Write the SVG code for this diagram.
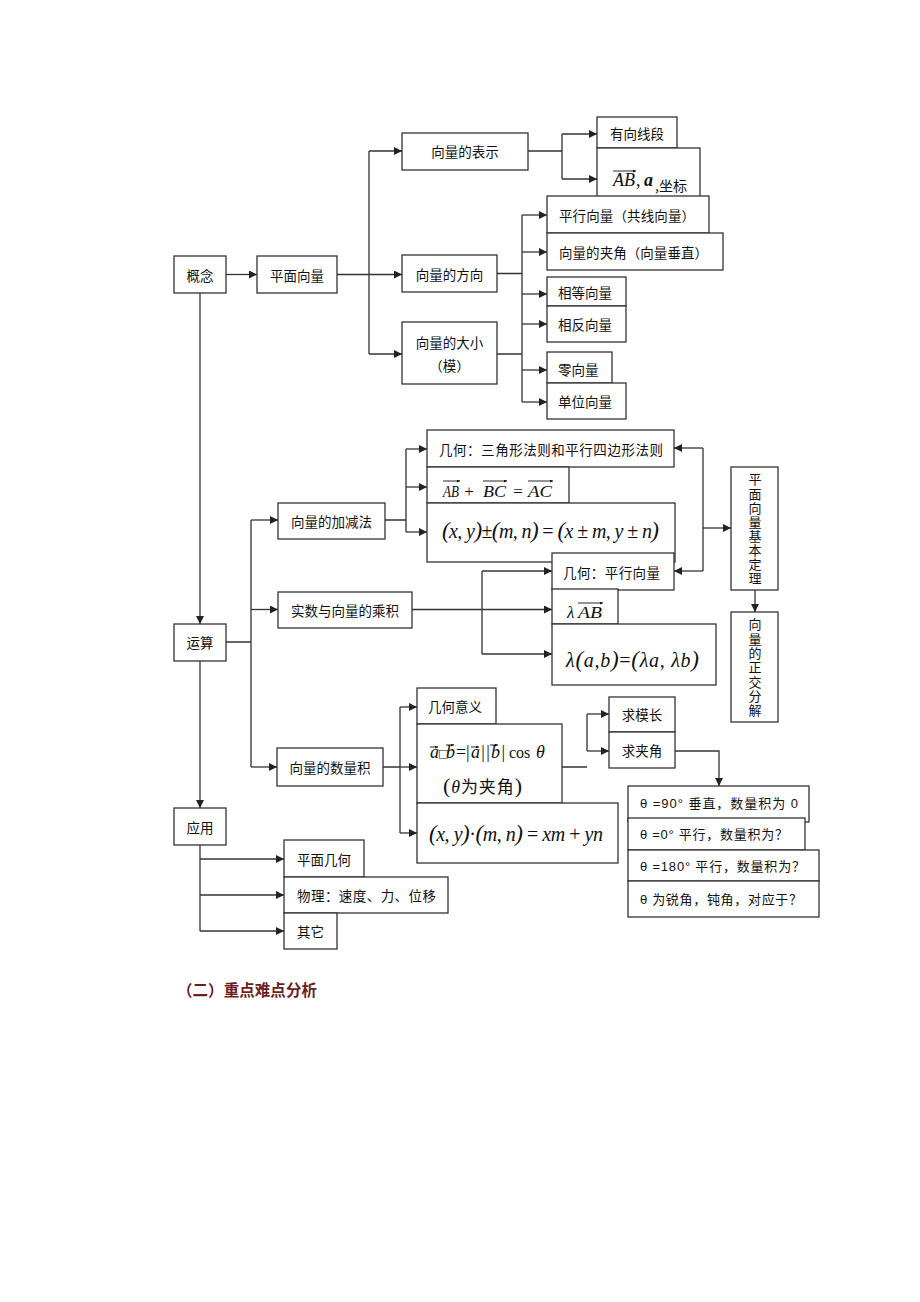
<svg xmlns="http://www.w3.org/2000/svg" width="920" height="1302" viewBox="0 0 920 1302">
<style>
.b{fill:#fff;stroke:#333;stroke-width:1.3}
.t{font-family:"Noto Sans CJK SC","Noto Sans CJK JP",sans-serif;font-size:13.5px;fill:#111;dominant-baseline:central}
.c{text-anchor:middle}
.v{font-family:"Noto Sans CJK SC","Noto Sans CJK JP",sans-serif;font-size:13px;fill:#111;writing-mode:vertical-rl}
.s{font-family:"Liberation Sans","Noto Sans CJK SC",sans-serif;font-size:13px;fill:#111;dominant-baseline:central}
.m{font-family:"Liberation Serif","Times New Roman",serif;font-style:italic;fill:#111}
.r{font-family:"Liberation Serif","Times New Roman",serif;fill:#111}
.k{font-family:"Noto Sans CJK SC",sans-serif;fill:#111}
.ln{stroke:#333;stroke-width:1.3;fill:none}
.ar{stroke:#333;stroke-width:1.3;fill:none;marker-end:url(#ah)}
.vc{stroke:#111;stroke-width:0.9;fill:none;marker-end:url(#vh)}
</style>
<defs>
<marker id="ah" markerWidth="9" markerHeight="9" refX="8" refY="4" orient="auto" markerUnits="userSpaceOnUse"><path d="M0,0 L8,4 L0,8 z" fill="#222"/></marker>
<marker id="vh" markerWidth="4" markerHeight="4" refX="3" refY="1.5" orient="auto" markerUnits="userSpaceOnUse"><path d="M0,0 L3,1.5 L0,3 z" fill="#111"/></marker>
</defs>
<rect width="920" height="1302" fill="#fff"/>

<g id="connectors">
<path class="ar" d="M226,274.5 H257"/>
<path class="ln" d="M337,274.5 H369 M369,151 V354"/>
<path class="ar" d="M369,151 H402"/>
<path class="ar" d="M369,274.5 H402"/>
<path class="ar" d="M369,354 H402"/>
<path class="ln" d="M528,151 H562 M562,134 V179"/>
<path class="ar" d="M562,134 H597"/>
<path class="ar" d="M562,179 H597"/>
<path class="ln" d="M497,273.5 H522 M497,354 H522 M522,215 V402"/>
<path class="ar" d="M522,215 H547"/>
<path class="ar" d="M522,252 H547"/>
<path class="ar" d="M522,294 H547"/>
<path class="ar" d="M522,324 H547"/>
<path class="ar" d="M522,370 H547"/>
<path class="ar" d="M522,402 H547"/>
<path class="ar" d="M200,293 V624"/>
<path class="ar" d="M200,661 V808"/>
<path class="ln" d="M226,642 H251 M251,520 V767"/>
<path class="ar" d="M251,520 H278"/>
<path class="ar" d="M251,609.5 H278"/>
<path class="ar" d="M251,767 H277"/>
<path class="ln" d="M385,520 H406 M406,449 V532"/>
<path class="ar" d="M406,449 H427"/>
<path class="ar" d="M406,487 H427"/>
<path class="ar" d="M406,532 H427"/>
<path class="ln" d="M412,609.5 H482 M482,571 V654"/>
<path class="ar" d="M482,571 H552"/>
<path class="ar" d="M482,609.5 H552"/>
<path class="ar" d="M482,654 H552"/>
<path class="ln" d="M703,448 V571"/>
<path class="ar" d="M703,448 H674"/>
<path class="ar" d="M703,571 H674"/>
<path class="ar" d="M703,528 H731"/>
<path class="ar" d="M755,590 V612"/>
<path class="ln" d="M383,767 H400 M400,707 V833"/>
<path class="ar" d="M400,707 H417"/>
<path class="ar" d="M400,767 H417"/>
<path class="ar" d="M400,833 H417"/>
<path class="ln" d="M562,767 H587 M587,714 V751"/>
<path class="ar" d="M587,714 H609"/>
<path class="ar" d="M587,751 H609"/>
<path class="ar" d="M675,751 H719 V786"/>
<path class="ln" d="M200,845 V931"/>
<path class="ar" d="M200,859 H284"/>
<path class="ar" d="M200,895 H284"/>
<path class="ar" d="M200,931 H284"/>
</g>

<g id="n_gainian"><rect class="b" x="174" y="256" width="52" height="37"/><text class="t c" x="200" y="274.5">概念</text></g>
<g id="n_pmxl"><rect class="b" x="257" y="256" width="80" height="37"/><text class="t c" x="297" y="274.5">平面向量</text></g>
<g id="n_biaoshi"><rect class="b" x="402" y="133" width="126" height="37"/><text class="t c" x="465" y="151">向量的表示</text></g>
<g id="n_youxiang"><rect class="b" x="597" y="117" width="80" height="31"/><text class="t c" x="637" y="132.5">有向线段</text></g>
<g id="n_ab"><rect class="b" x="597" y="148" width="103" height="50"/>
<text class="m" x="613" y="186" font-size="18" textLength="22" lengthAdjust="spacingAndGlyphs">AB</text>
<path class="vc" d="M613,171 H636"/>
<text class="r" x="636" y="186" font-size="18">,</text>
<text class="m" x="644" y="186" font-size="18" font-weight="bold">a</text>
<text class="k" x="655" y="191" font-size="14">,坐标</text></g>
<g id="n_pingxing"><rect class="b" x="547" y="196" width="162" height="37"/><text class="t" x="559" y="214.5" textLength="136">平行向量（共线向量）</text></g>
<g id="n_jiajiao"><rect class="b" x="547" y="233" width="176" height="37"/><text class="t" x="559" y="251.5" textLength="149">向量的夹角（向量垂直）</text></g>
<g id="n_fangxiang"><rect class="b" x="402" y="255" width="95" height="37"/><text class="t c" x="449.5" y="273.5">向量的方向</text></g>
<g id="n_daxiao"><rect class="b" x="402" y="322" width="95" height="62"/><text class="t c" x="449.5" y="341.5">向量的大小</text><text class="t c" x="449.5" y="365">（模）</text></g>
<g id="n_xiangdeng"><rect class="b" x="547" y="277" width="79" height="29"/><text class="t" x="558" y="292">相等向量</text></g>
<g id="n_xiangfan"><rect class="b" x="547" y="306" width="79" height="36"/><text class="t" x="558" y="324">相反向量</text></g>
<g id="n_ling"><rect class="b" x="547" y="352" width="65" height="31"/><text class="t" x="558" y="369">零向量</text></g>
<g id="n_danwei"><rect class="b" x="547" y="383" width="79" height="36"/><text class="t" x="558" y="401">单位向量</text></g>

<g id="n_yunsuan"><rect class="b" x="174" y="624" width="52" height="37"/><text class="t c" x="200" y="642">运算</text></g>
<g id="n_jiajian"><rect class="b" x="278" y="503" width="107" height="36"/><text class="t c" x="331.5" y="521">向量的加减法</text></g>
<g id="n_chengji"><rect class="b" x="278" y="592" width="134" height="36"/><text class="t c" x="345" y="610">实数与向量的乘积</text></g>
<g id="n_sanjiao"><rect class="b" x="427" y="430" width="247" height="37"/><text class="t" x="439" y="448.5" textLength="224">几何：三角形法则和平行四边形法则</text></g>
<g id="n_abbc"><rect class="b" x="427" y="467" width="142" height="36"/>
<text class="m" x="443" y="497" font-size="17" textLength="16" lengthAdjust="spacingAndGlyphs">AB</text>
<path class="vc" d="M443,481 H460"/>
<text class="r" x="469" y="497" font-size="17" text-anchor="middle">+</text>
<text class="m" x="483" y="497" font-size="17" textLength="23" lengthAdjust="spacingAndGlyphs">BC</text>
<path class="vc" d="M483,481 H507"/>
<text class="r" x="518" y="497" font-size="17" text-anchor="middle">=</text>
<text class="m" x="528" y="497" font-size="17" textLength="24" lengthAdjust="spacingAndGlyphs">AC</text>
<path class="vc" d="M528,481 H553"/></g>
<g id="n_pm"><rect class="b" x="427" y="503" width="248" height="59"/>
<text class="m" x="442" y="538" font-size="20" textLength="217" lengthAdjust="spacing"><tspan class="r" font-size="23">(</tspan>x, y<tspan class="r" font-size="23">)</tspan><tspan class="r" font-style="normal">±</tspan><tspan class="r" font-size="23">(</tspan>m, n<tspan class="r" font-size="23">)</tspan><tspan class="r" font-style="normal"> = </tspan><tspan class="r" font-size="23">(</tspan>x <tspan font-style="normal">±</tspan> m, y <tspan font-style="normal">±</tspan> n<tspan class="r" font-size="23">)</tspan></text></g>
<g id="n_jhpx"><rect class="b" x="552" y="553" width="122" height="37"/><text class="t" x="563" y="571.5" textLength="97">几何：平行向量</text></g>
<g id="n_lab"><rect class="b" x="552" y="589" width="66" height="35"/>
<text class="m" x="567" y="618" font-size="17">λ</text>
<text class="m" x="578" y="618" font-size="17" textLength="24" lengthAdjust="spacingAndGlyphs">AB</text>
<path class="vc" d="M578,603 H603"/></g>
<g id="n_lamb"><rect class="b" x="552" y="624" width="164" height="61"/>
<text class="m" x="566" y="667" font-size="20" textLength="133" lengthAdjust="spacing">λ<tspan class="r" font-size="23">(</tspan>a,b<tspan class="r" font-size="23">)</tspan><tspan font-style="normal">=</tspan><tspan class="r" font-size="23">(</tspan>λa, λb<tspan class="r" font-size="23">)</tspan></text></g>
<g id="n_jiben"><rect class="b" x="731" y="467" width="47" height="123"/>
<text class="v" x="755" y="473" letter-spacing="1.1">平面向量基本定理</text></g>
<g id="n_zhengjiao"><rect class="b" x="731" y="612" width="47" height="110"/>
<text class="v" x="755" y="618" letter-spacing="1.3">向量的正交分解</text></g>
<g id="n_shuliangji"><rect class="b" x="277" y="748" width="106" height="38"/><text class="t c" x="330" y="767">向量的数量积</text></g>
<g id="n_jhyy"><rect class="b" x="417" y="688" width="79" height="36"/><text class="t" x="428" y="706">几何意义</text></g>
<g id="n_dot"><rect class="b" x="417" y="724" width="145" height="79"/>
<text class="m" x="430" y="758" font-size="18">a</text>
<path class="vc" d="M430,747 H438"/>
<text x="438" y="757" font-size="11" font-family="DejaVu Sans,sans-serif" fill="#111">□</text>
<text class="m" x="446" y="758" font-size="18">b</text>
<path class="vc" d="M446,745 H454"/>
<text class="r" x="461" y="758" font-size="18" text-anchor="middle">=</text>
<text class="m" x="466" y="758" font-size="18" textLength="39" lengthAdjust="spacing"><tspan font-style="normal">|</tspan>a<tspan font-style="normal">||</tspan>b<tspan font-style="normal">|</tspan></text>
<path class="vc" d="M471,747 H479"/>
<path class="vc" d="M490,745 H498"/>
<text class="r" x="509" y="758" font-size="16">cos</text>
<text class="m" x="536" y="758" font-size="18">θ</text>
<text x="443" y="793" textLength="79" lengthAdjust="spacing"><tspan class="r" font-size="22">(</tspan><tspan class="m" font-size="18">θ</tspan><tspan class="k" font-size="17">为夹角</tspan><tspan class="r" font-size="22">)</tspan></text></g>
<g id="n_xy"><rect class="b" x="417" y="803" width="201" height="60"/>
<text class="m" x="429" y="841" font-size="20" textLength="174" lengthAdjust="spacing"><tspan class="r" font-size="23">(</tspan>x, y<tspan class="r" font-size="23">)</tspan><tspan font-style="normal">·</tspan><tspan class="r" font-size="23">(</tspan>m, n<tspan class="r" font-size="23">)</tspan><tspan font-style="normal"> = </tspan>xm <tspan font-style="normal">+</tspan> yn</text></g>
<g id="n_mochang"><rect class="b" x="609" y="697" width="66" height="35"/><text class="t c" x="642" y="714">求模长</text></g>
<g id="n_jiajiao2"><rect class="b" x="609" y="732" width="66" height="36"/><text class="t c" x="642" y="750">求夹角</text></g>
<g id="n_t90"><rect class="b" x="628" y="786" width="181" height="36"/><text class="s" x="640" y="803" textLength="158" lengthAdjust="spacing">θ =90°  垂直，数量积为 0</text></g>
<g id="n_t0"><rect class="b" x="628" y="818" width="177" height="32"/><text class="s" x="640" y="834" textLength="148" lengthAdjust="spacing">θ =0°  平行，数量积为？</text></g>
<g id="n_t180"><rect class="b" x="628" y="850" width="191" height="31"/><text class="s" x="640" y="866" textLength="165" lengthAdjust="spacing">θ =180°  平行，数量积为？</text></g>
<g id="n_tacute"><rect class="b" x="628" y="881" width="191" height="36"/><text class="s" x="640" y="899" textLength="162" lengthAdjust="spacing">θ 为锐角，钝角，对应于？</text></g>
<g id="n_yingyong"><rect class="b" x="174" y="808" width="52" height="37"/><text class="t c" x="200" y="826.5">应用</text></g>
<g id="n_pmjh"><rect class="b" x="284" y="840" width="80" height="37"/><text class="t" x="297" y="858.5">平面几何</text></g>
<g id="n_wuli"><rect class="b" x="284" y="877" width="164" height="36"/><text class="t" x="297" y="895" textLength="139">物理：速度、力、位移</text></g>
<g id="n_qita"><rect class="b" x="284" y="913" width="53" height="36"/><text class="t" x="297" y="931">其它</text></g>

<text x="177" y="989" font-family="Noto Sans CJK SC,sans-serif" font-size="15.5" font-weight="bold" fill="#6e1e1e" dominant-baseline="central" textLength="140">（二）重点难点分析</text>
</svg>
